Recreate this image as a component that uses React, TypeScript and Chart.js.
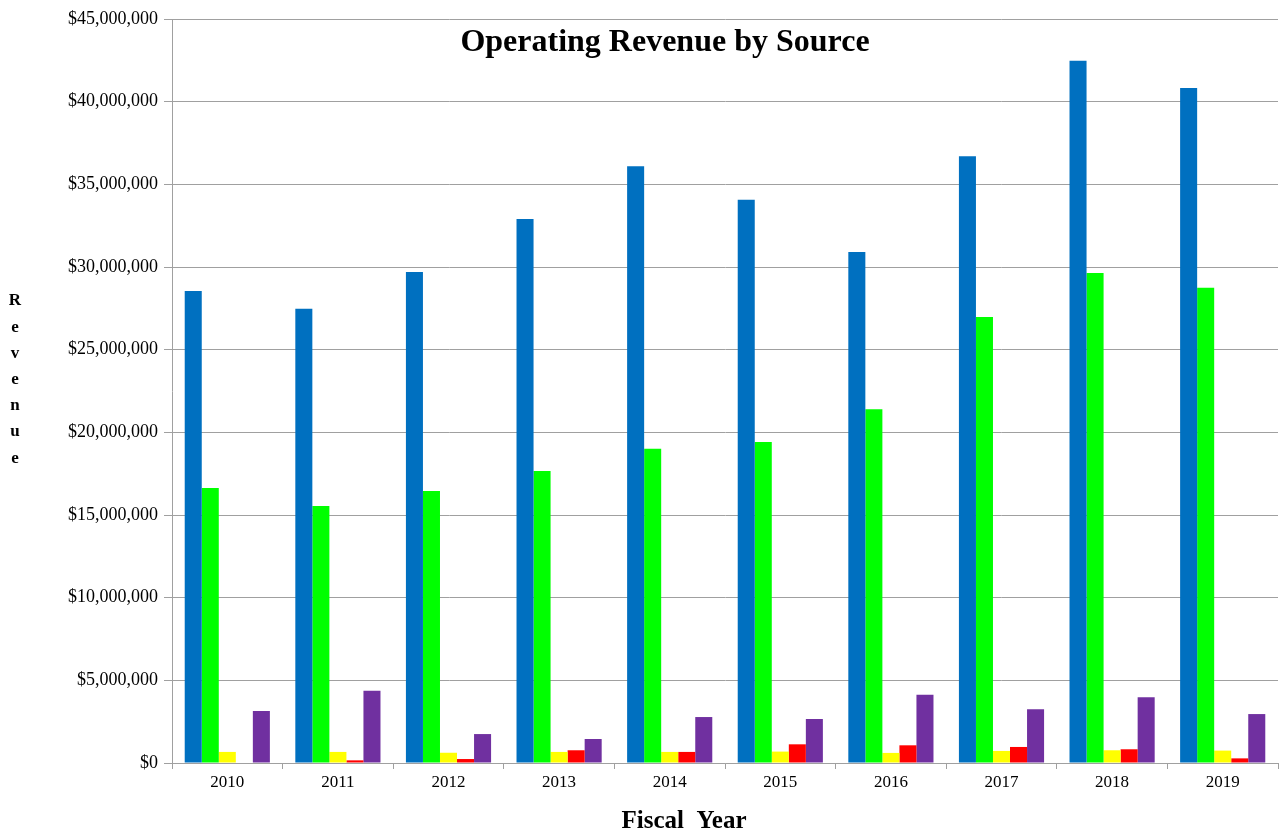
import React, { useEffect, useRef } from "react";
import { Chart, registerables } from "chart.js";

Chart.register(...registerables);

const years = ["2010", "2011", "2012", "2013", "2014", "2015", "2016", "2017", "2018", "2019"];
const seriesA = [28550000, 27470000, 29700000, 32900000, 36100000, 34060000, 30900000, 36700000, 42470000, 40830000];
const seriesB = [16640000, 15550000, 16450000, 17660000, 19000000, 19420000, 21400000, 26980000, 29640000, 28740000];
const seriesC = [670000, 670000, 620000, 670000, 670000, 690000, 610000, 730000, 770000, 750000];
const seriesD = [0, 160000, 240000, 770000, 670000, 1130000, 1070000, 970000, 830000, 280000];
const seriesE = [3150000, 4370000, 1750000, 1450000, 2780000, 2660000, 4130000, 3250000, 3970000, 2960000];
const colors = ["#0070C0", "#00FF00", "#FFFF00", "#FF0000", "#7030A0"];
const titleText = "Operating Revenue by Source";
const yTitle = "Revenue";
const xTitle = "Fiscal  Year";

const FONT = "'Liberation Serif', 'Times New Roman', serif";

export default function App() {
  const ref = useRef<HTMLCanvasElement>(null);
  useEffect(() => {
    document.body.style.margin = "0";
    const textPlugin = {
      id: "textPlugin",
      afterDraw(chart: any) {
        const ctx = chart.ctx;
        ctx.save();
        ctx.fillStyle = "#000";
        ctx.textAlign = "center";
        ctx.textBaseline = "alphabetic";
        ctx.font = `bold 32px ${FONT}`;
        ctx.fillText(titleText, 665, 51);
        ctx.font = `bold 25px ${FONT}`;
        ctx.fillText(xTitle, 684, 828);
        ctx.textBaseline = "middle";
        ctx.font = `bold 17px ${FONT}`;
        const letters = yTitle.split("");
        letters.forEach((l, i) => ctx.fillText(l, 15, 301 + i * 26.2));
        ctx.restore();
      },
    };
    const data = [seriesA, seriesB, seriesC, seriesD, seriesE];
    const chart = new Chart(ref.current!, {
      type: "bar",
      data: {
        labels: years,
        datasets: data.map((d, i) => ({
          label: "S" + (i + 1),
          data: d,
          backgroundColor: colors[i],
          borderWidth: 0,
          categoryPercentage: 0.77,
          barPercentage: 1,
        })),
      },
      options: {
        animation: false,
        responsive: false,
        maintainAspectRatio: false,
        layout: { padding: { top: 19, right: 7, bottom: 0, left: 0 } },
        plugins: { legend: { display: false }, title: { display: false }, tooltip: { enabled: false } },
        scales: {
          x: {
            afterFit: (s: any) => { s.height = 68; },
            grid: { display: true, offset: true, drawOnChartArea: false, drawTicks: true, tickLength: 6, color: "#a0a0a0" },
            border: { display: true, color: "#a0a0a0", width: 1 },
            ticks: { color: "#000", font: { family: FONT, size: 17 }, padding: 3 },
          },
          y: {
            min: 0,
            max: 45000000,
            afterFit: (s: any) => { s.width = 172; },
            grid: { color: "#a0a0a0", tickLength: 8, lineWidth: 1 },
            border: { display: true, color: "#a0a0a0", width: 1 },
            ticks: {
              stepSize: 5000000,
              color: "#000",
              font: { family: FONT, size: 18 },
              padding: 6,
              callback: (v: any) => "$" + Number(v).toLocaleString("en-US"),
            },
          },
        },
      },
      plugins: [textPlugin],
    });
    return () => chart.destroy();
  }, []);
  return <canvas ref={ref} width={1285} height={831} style={{ display: "block" }} />;
}
